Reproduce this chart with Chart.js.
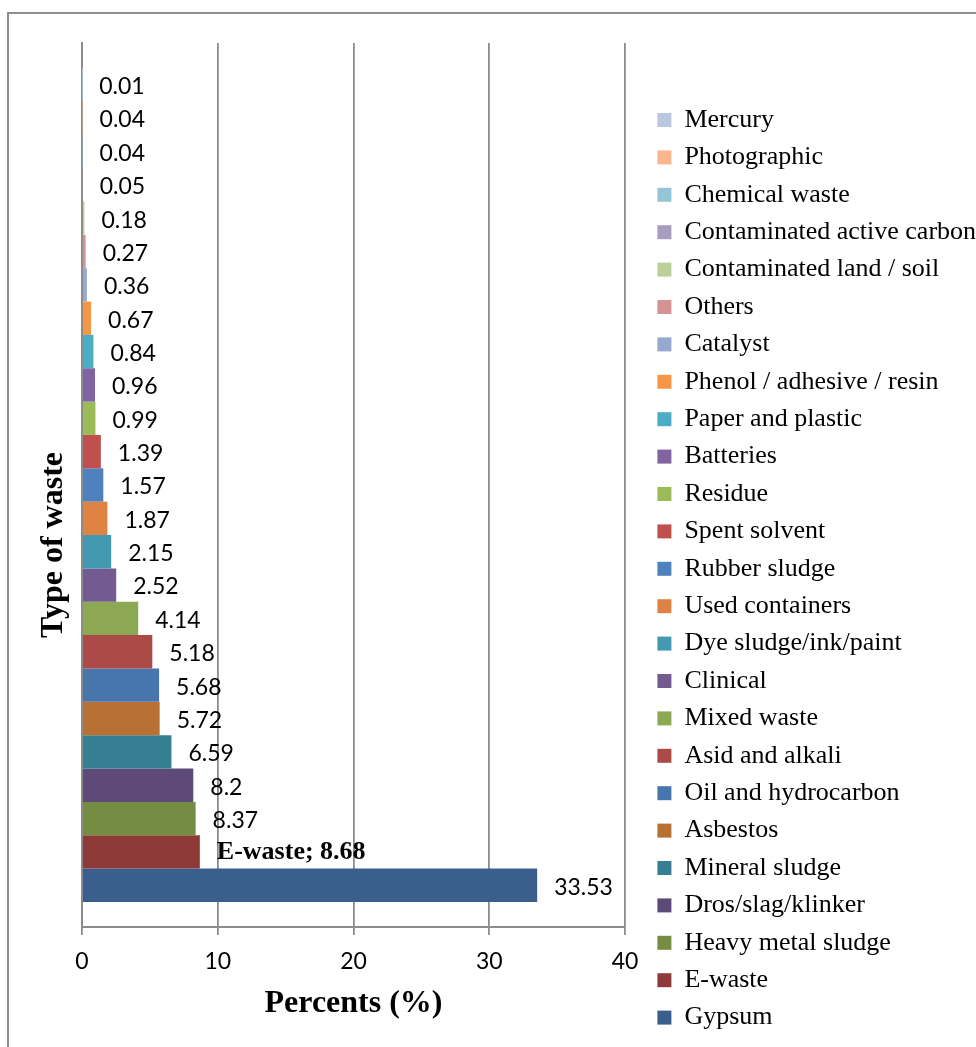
<!DOCTYPE html>
<html>
<head>
<meta charset="utf-8">
<script src="https://cdn.jsdelivr.net/npm/chart.js@4/dist/chart.umd.min.js"></script>
<style>
  html, body { margin: 0; padding: 0; overflow: hidden; background: #fff; }
  #frame { position: absolute; left: 7px; top: 12px; width: 1200px; height: 1200px; border: 2px solid #8e8e8e; }
  #waste_canvas { position: absolute; left: 0; top: 0; }
</style>
</head>
<body>
<div id="frame"></div>
<canvas id="waste_canvas" width="976" height="1047"></canvas>
<script>
// waste types, listed from the top bar down
var wasteTypes = [
    'Mercury', 'Photographic', 'Chemical waste', 'Contaminated active carbon',
    'Contaminated land / soil', 'Others', 'Catalyst', 'Phenol / adhesive / resin',
    'Paper and plastic', 'Batteries', 'Residue', 'Spent solvent', 'Rubber sludge',
    'Used containers', 'Dye sludge/ink/paint', 'Clinical', 'Mixed waste',
    'Asid and alkali', 'Oil and hydrocarbon', 'Asbestos', 'Mineral sludge',
    'Dros/slag/klinker', 'Heavy metal sludge', 'E-waste', 'Gypsum'
];
var percents = [
    0.01, 0.04, 0.04, 0.05, 0.18, 0.27, 0.36, 0.67, 0.84, 0.96, 0.99, 1.39, 1.57,
    1.87, 2.15, 2.52, 4.14, 5.18, 5.68, 5.72, 6.59, 8.2, 8.37, 8.68, 33.53
];
var barColors = [
    '#B9C7E1', '#FAB68E', '#93C5D5', '#A99CC1', '#BBD096', '#D59393', '#95A9D1',
    '#F79646', '#4BACC6', '#8064A2', '#9BBB59', '#C0504D', '#4F81BD', '#DE8343',
    '#4299B0', '#735A91', '#8DA853', '#AC4A47', '#4775AC', '#B87133', '#367E92',
    '#5E4A78', '#748D42', '#8D3A38', '#3A5F8C'
];
var xTicks = [0, 10, 20, 30, 40];
var highlighted = 'E-waste';

var datasets = [];
for (let i = 0; i < wasteTypes.length; i++) {
    datasets.push({
        label: wasteTypes[i],
        data: [percents[i]],
        backgroundColor: barColors[i],
        borderWidth: 0
    });
}

// value written just past the end of each bar
const valueLabels = {
    id: 'valueLabels',
    afterDatasetsDraw(chart) {
        const ctx = chart.ctx;
        ctx.save();
        ctx.fillStyle = '#000';
        ctx.textAlign = 'left';
        ctx.textBaseline = 'middle';
        chart.data.datasets.forEach((ds, i) => {
            const bar = chart.getDatasetMeta(i).data[0];
            let text = String(ds.data[0]);
            let dy = 2;
            if (ds.label == highlighted) {
                ctx.font = 'bold 26px "Liberation Serif"';
                text = ds.label + '; ' + text;
                dy = 0;
            } else {
                ctx.font = '23px Lato';
            }
            ctx.fillText(text, bar.x + 17, bar.y + dy);
        });
        ctx.restore();
    }
};

const wasteCanvas = document.getElementById('waste_canvas');
const wasteChart = new Chart(wasteCanvas, {
    type: 'bar',
    data: {
        labels: [''],
        datasets: datasets
    },
    plugins: [valueLabels],
    options: {
        indexAxis: 'y',
        responsive: false,
        animation: false,
        categoryPercentage: 0.9434,
        barPercentage: 1,
        layout: {
            padding: { top: 43, bottom: 5, left: 0, right: 0 }
        },
        plugins: {
            tooltip: { enabled: false },
            legend: {
                position: 'right',
                align: 'end',
                maxWidth: 330,
                labels: {
                    boxWidth: 14,
                    boxHeight: 14,
                    padding: 11.4,
                    color: '#000',
                    font: { family: 'Liberation Serif', size: 26 }
                }
            }
        },
        scales: {
            x: {
                min: 0,
                max: 40,
                afterBuildTicks(scale) {
                    scale.ticks = xTicks.map(v => ({ value: v }));
                },
                afterFit(scale) {
                    scale.height = 115;
                },
                grid: {
                    color: '#8c8c8c',
                    lineWidth: 1.8,
                    tickLength: 8
                },
                border: { color: '#8c8c8c', width: 2 },
                ticks: {
                    color: '#000',
                    padding: 13,
                    font: { family: 'Lato', size: 23 }
                },
                title: {
                    display: true,
                    text: 'Percents (%)',
                    color: '#000',
                    padding: { top: 0, bottom: 19.5 },
                    font: { family: 'Liberation Serif', size: 32, weight: 'bold' }
                }
            },
            y: {
                afterFit(scale) {
                    scale.width = 82;
                },
                grid: { display: false },
                border: { color: '#8c8c8c', width: 2 },
                ticks: { display: false },
                title: {
                    display: true,
                    text: 'Type of waste               ',
                    color: '#000',
                    padding: { top: 35, bottom: 0 },
                    font: { family: 'Liberation Serif', size: 32, weight: 'bold' }
                }
            },
            // empty strip between plot and legend
            gap: {
                axis: 'y',
                position: 'right',
                afterFit(scale) {
                    scale.width = 21;
                },
                grid: { display: false },
                border: { display: false },
                ticks: { display: false }
            }
        }
    }
});
</script>
</body>
</html>
